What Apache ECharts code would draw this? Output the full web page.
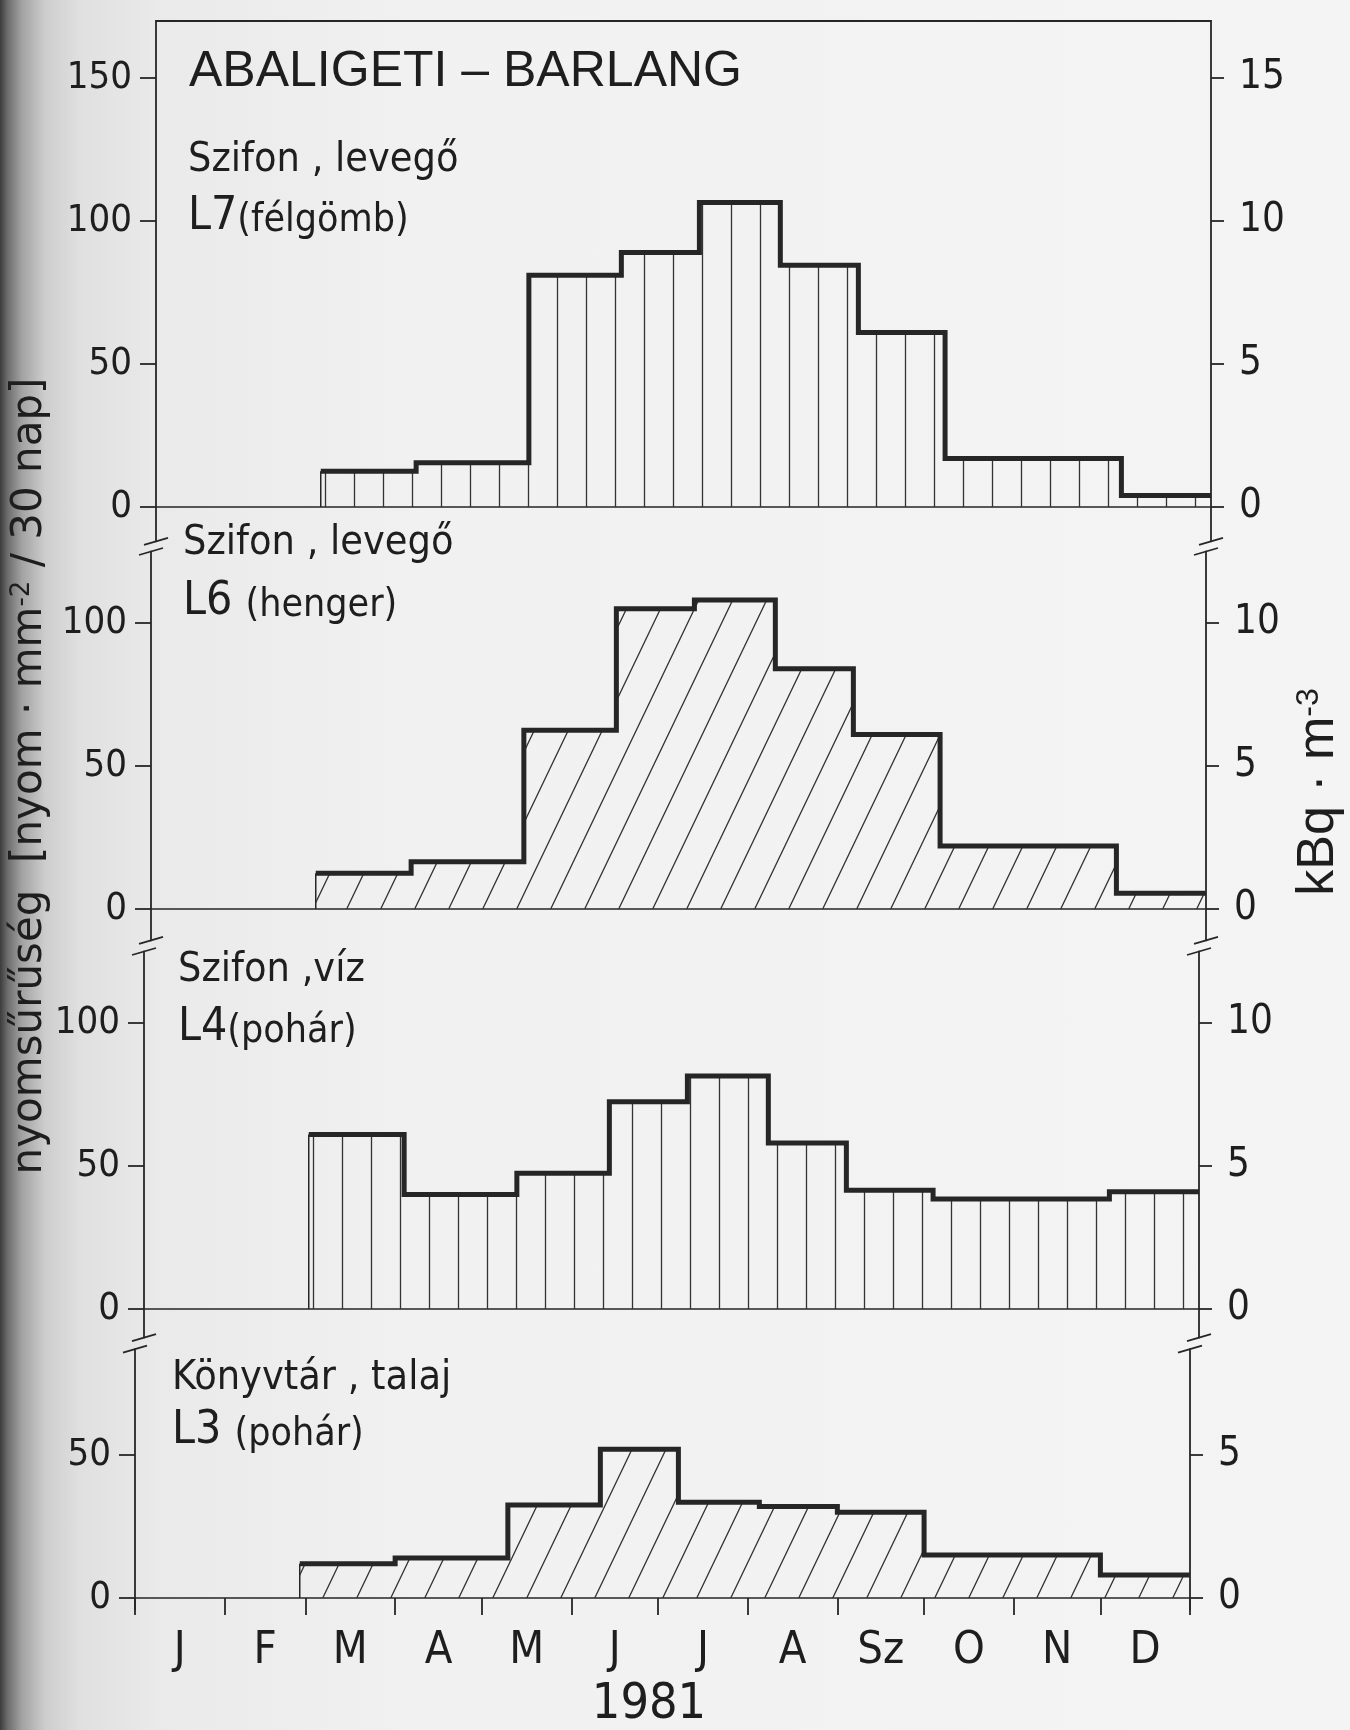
<!DOCTYPE html>
<html>
<head>
<meta charset="utf-8">
<script src="https://cdn.jsdelivr.net/npm/echarts@6.0.0/dist/echarts.min.js"></script>
<style>
  html, body { margin: 0; padding: 0; }
  body {
    width: 1350px; height: 1730px; overflow: hidden;
    background: linear-gradient(90deg, #3c3c3c 0px, #6e6e6e 8px, #a3a3a3 22px, #cdcdcd 45px, #e0e0e0 80px, #eaeaea 160px, #f1f1f1 420px, #f4f4f4 100%);
  }
  #chart { width: 1350px; height: 1730px; }
</style>
</head>
<body>
<div id="chart"></div>
<script>
// ---------------- data ----------------
const monthLabels = ['J', 'F', 'M', 'A', 'M', 'J', 'J', 'A', 'Sz', 'O', 'N', 'D'];
const monthStarts = [0, 31, 59, 90, 120, 151, 181, 212, 243, 273, 304, 334, 365];   // day of year 1981
const periodEdges = [57, 90, 129, 161, 188, 216, 243, 273, 334, 365];              // detector exchange days

// track density [nyom · mm^-2 / 30 nap] per exposure period
const valuesL7 = [12.5, 15.5, 81, 89, 106.5, 84.5, 61, 17, 4];     // Szifon, levegő – L7 (félgömb)
const valuesL6 = [12.5, 16.5, 62.5, 105, 108, 84, 61, 22, 5.5];    // Szifon, levegő – L6 (henger)
const valuesL4 = [61, 40, 47.5, 72.5, 81.5, 58, 41.5, 38.5, 41];   // Szifon, víz – L4 (pohár)
const valuesL3 = [12, 14, 32.5, 52, 33.5, 32, 30, 15, 8];          // Könyvtár, talaj – L3 (pohár)

const leftTicks1 = [0, 50, 100, 150];
const leftTicks2 = [0, 50, 100];
const leftTicks3 = [0, 50, 100];
const leftTicks4 = [0, 50];
const rightTicks1 = [0, 5, 10, 15];
const rightTicks2 = [0, 5, 10];
const rightTicks3 = [0, 5, 10];
const rightTicks4 = [0, 5];
const tracksPerKBq = 10;   // right axis kBq·m^-3 = left axis / 10

const titleText = 'ABALIGETI – BARLANG';
const yearText = '1981';

// ---------------- styling / layout ----------------
const NARROW = "'DejaVu Sans Condensed','Liberation Sans Narrow','Liberation Sans',sans-serif";
const REG = "'Liberation Sans',Arial,'DejaVu Sans',sans-serif";
const WIDE = "'DejaVu Sans','Liberation Sans',sans-serif";
const INK = '#262626';
const TXT = '#1e1e1e';
const PLOT_W = 1055;
const PX_PER_DAY = PLOT_W / 365;
const PX_PER_UNIT = 2.86;

const panels = [
  { values: valuesL7, lt: leftTicks1, rt: rightTicks1, hatch: 'v', left: 156, zero: 507,  max: 170, min: -12,
    line1: 'Szifon , levegő', code: 'L7', kind: '(félgömb)', tx: 188, ty1: 160, ty2: 217 },
  { values: valuesL6, lt: leftTicks2, rt: rightTicks2, hatch: 'd', left: 151, zero: 909,  max: 125, min: -11,
    line1: 'Szifon , levegő', code: 'L6 ', kind: '(henger)', tx: 183, ty1: 543, ty2: 602 },
  { values: valuesL4, lt: leftTicks3, rt: rightTicks3, hatch: 'v', left: 144, zero: 1309, max: 125, min: -10,
    line1: 'Szifon ,víz', code: 'L4', kind: '(pohár)', tx: 178, ty1: 970, ty2: 1028 },
  { values: valuesL3, lt: leftTicks4, rt: rightTicks4, hatch: 'd', left: 135, zero: 1598, max: 87, min: -4,
    line1: 'Könyvtár , talaj', code: 'L3 ', kind: '(pohár)', tx: 172, ty1: 1378, ty2: 1431 }
];

function vPattern(phase) {
  const W = 29, H = 12;
  const c = document.createElement('canvas');
  c.width = W; c.height = H;
  const g = c.getContext('2d');
  g.strokeStyle = '#333';
  g.lineWidth = 1.3;
  const x = Math.round(((phase % W) + W) % W) + 0.5;
  g.beginPath();
  g.moveTo(x, 0); g.lineTo(x, H);
  g.stroke();
  return c;
}
function dPattern() {
  const W = 34, H = 71;
  const c = document.createElement('canvas');
  c.width = W; c.height = H;
  const g = c.getContext('2d');
  g.strokeStyle = '#333';
  g.lineWidth = 1.3;
  g.beginPath();
  for (const dx of [-W, 0, W]) {
    g.moveTo(dx - W, 2 * H);
    g.lineTo(dx + 2 * W, -H);
  }
  g.stroke();
  return c;
}

function stepData(vals) {
  const d = vals.map((v, i) => [periodEdges[i], v]);
  d.push([periodEdges[vals.length], vals[vals.length - 1]]);
  return d;
}

const monthMids = monthStarts.slice(0, 12).map((s, i) => (s + monthStarts[i + 1]) / 2);
function monthFormatter(v) {
  let best = 0;
  for (let i = 1; i < monthMids.length; i++) {
    if (Math.abs(monthMids[i] - v) < Math.abs(monthMids[best] - v)) best = i;
  }
  return monthLabels[best];
}

const grid = [], xAxis = [], yAxis = [], series = [], graphic = [];
const axisLineStyle = { color: INK, width: 1.8 };

panels.forEach((p, i) => {
  const top = p.zero - p.max * PX_PER_UNIT;
  const height = (p.max - p.min) * PX_PER_UNIT;
  p.top = top; p.bottom = top + height;
  grid.push({ left: p.left, top: top, width: PLOT_W, height: height, containLabel: false, outerBoundsMode: 'none' });

  const isLast = i === panels.length - 1;
  xAxis.push({
    gridIndex: i, type: 'value', min: 0, max: 365,
    axisLine: { show: true, onZero: true, onZeroAxisIndex: 2 * i, lineStyle: { color: INK, width: 1.6 } },
    axisTick: isLast
      ? { show: true, customValues: monthStarts, length: 17, inside: false, lineStyle: axisLineStyle }
      : { show: false },
    axisLabel: isLast
      ? { show: true, customValues: monthMids, formatter: monthFormatter, margin: 19,
          fontFamily: NARROW, fontSize: 45, color: TXT }
      : { show: false },
    splitLine: { show: false }
  });

  yAxis.push({
    gridIndex: i, type: 'value', position: 'left', min: p.min, max: p.max,
    axisLine: { show: true, onZero: false, lineStyle: axisLineStyle },
    axisTick: { show: true, customValues: p.lt, length: 16, inside: false, lineStyle: axisLineStyle },
    axisLabel: { show: true, customValues: p.lt, margin: 24, fontFamily: NARROW, fontSize: 38, color: TXT },
    splitLine: { show: false }
  });
  yAxis.push({
    gridIndex: i, type: 'value', position: 'right', min: p.min / tracksPerKBq, max: p.max / tracksPerKBq,
    axisLine: { show: true, onZero: false, lineStyle: axisLineStyle },
    axisTick: { show: true, customValues: p.rt, length: 13, inside: false, lineStyle: axisLineStyle },
    axisLabel: { show: true, customValues: p.rt, margin: 28, fontFamily: NARROW, fontSize: 40, color: TXT },
    splitLine: { show: false }
  });

  const startX = p.left + periodEdges[0] * PX_PER_DAY;
  const pattern = p.hatch === 'v' ? vPattern(startX + 4) : dPattern();
  series.push({
    type: 'line', xAxisIndex: i, yAxisIndex: 2 * i, step: 'end',
    data: stepData(p.values), symbol: 'none', silent: true,
    lineStyle: { color: INK, width: 5, join: 'miter', cap: 'butt' },
    areaStyle: { color: { image: pattern, repeat: 'repeat' }, opacity: 1, origin: 'auto' },
    z: 3
  });
  series.push({
    type: 'line', xAxisIndex: i, yAxisIndex: 2 * i,
    data: [[periodEdges[0], 0], [periodEdges[0], p.values[0]]],
    symbol: 'none', silent: true, lineStyle: { color: INK, width: 1.5 }, z: 2
  });

  // panel captions
  graphic.push({
    type: 'text', x: p.tx, y: p.ty1, silent: true,
    style: { text: p.line1, fontFamily: NARROW, fontSize: 41, fill: TXT,
             align: 'left', verticalAlign: 'middle', textAlign: 'left', textVerticalAlign: 'middle' }
  });
  graphic.push({
    type: 'text', x: p.tx, y: p.ty2, silent: true,
    style: { text: '{b|' + p.code + '}{s|' + p.kind + '}', fontFamily: NARROW, fontSize: 46, fill: TXT,
             align: 'left', verticalAlign: 'middle', textAlign: 'left', textVerticalAlign: 'middle',
             rich: {
               b: { fontFamily: NARROW, fontSize: 46, fill: TXT, verticalAlign: 'bottom' },
               s: { fontFamily: NARROW, fontSize: 39, fill: TXT, verticalAlign: 'bottom' }
             } }
  });
});

// top frame line of the first panel
xAxis.push({
  gridIndex: 0, type: 'value', position: 'top', min: 0, max: 365,
  axisLine: { show: true, onZero: false, lineStyle: axisLineStyle },
  axisTick: { show: false }, axisLabel: { show: false }, splitLine: { show: false }
});

// axis break marks between panels
function breakMark(x, y) {
  return { type: 'line', silent: true, shape: { x1: x - 12, y1: y + 3.5, x2: x + 12, y2: y - 3.5 },
           style: { stroke: INK, lineWidth: 1.8 } };
}
for (let i = 0; i < panels.length - 1; i++) {
  const a = panels[i], b = panels[i + 1];
  graphic.push(breakMark(a.left, a.bottom));
  graphic.push(breakMark(b.left, b.top));
  graphic.push(breakMark(a.left + PLOT_W, a.bottom));
  graphic.push(breakMark(b.left + PLOT_W, b.top));
}

// title, year, axis names
graphic.push({
  type: 'text', x: 189, y: 72, silent: true,
  style: { text: titleText, fontFamily: REG, fontSize: 50, fill: TXT,
           align: 'left', verticalAlign: 'middle', textAlign: 'left', textVerticalAlign: 'middle' }
});
graphic.push({
  type: 'text', x: 649, y: 1705, silent: true,
  style: { text: yearText, fontFamily: NARROW, fontSize: 50, fill: TXT,
           align: 'center', verticalAlign: 'middle', textAlign: 'center', textVerticalAlign: 'middle' }
});
graphic.push({
  type: 'text', x: 30, y: 776, rotation: Math.PI / 2, silent: true,
  style: { text: 'nyomsűrűség  [nyom · mm{sup|-2} / 30 nap]', fontFamily: WIDE, fontSize: 42, fill: TXT,
           align: 'center', verticalAlign: 'middle', textAlign: 'center', textVerticalAlign: 'middle',
           rich: { sup: { fontFamily: WIDE, fontSize: 26, fill: TXT, verticalAlign: 'top' } } }
});
graphic.push({
  type: 'text', x: 1319, y: 792, rotation: Math.PI / 2, silent: true,
  style: { text: 'kBq · m{sup|-3}', fontFamily: REG, fontSize: 52, fill: TXT,
           align: 'center', verticalAlign: 'middle', textAlign: 'center', textVerticalAlign: 'middle',
           rich: { sup: { fontFamily: REG, fontSize: 32, fill: TXT, verticalAlign: 'top' } } }
});

const chart = echarts.init(document.getElementById('chart'), null, { renderer: 'canvas', width: 1350, height: 1730 });
chart.setOption({
  backgroundColor: 'transparent',
  animation: false,
  textStyle: { fontFamily: NARROW },
  grid: grid,
  xAxis: xAxis,
  yAxis: yAxis,
  series: series,
  graphic: graphic
});
</script>
</body>
</html>
